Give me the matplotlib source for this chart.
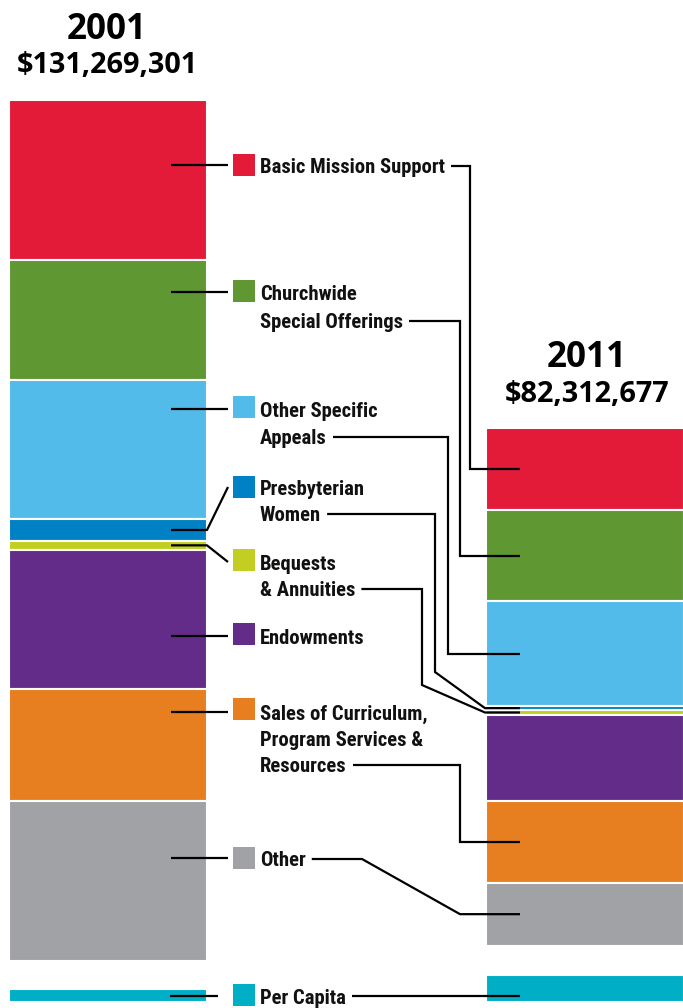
import numpy as np
import matplotlib
matplotlib.use("Agg")
import matplotlib.pyplot as plt
from matplotlib import font_manager
from matplotlib.font_manager import FontProperties
from matplotlib.patches import Rectangle

# ---------------- data (millions of dollars) ----------------
categories = ["Basic Mission Support", "Churchwide Special Offerings", "Other Specific Appeals",
              "Presbyterian Women", "Bequests & Annuities", "Endowments",
              "Sales of Curriculum, Program Services & Resources", "Other"]
label_lines = [["Basic Mission Support"], ["Churchwide", "Special Offerings"],
               ["Other Specific", "Appeals"], ["Presbyterian", "Women"],
               ["Bequests", "& Annuities"], ["Endowments"],
               ["Sales of Curriculum,", "Program Services &", "Resources"], ["Other"]]
values_2001 = [24.0, 18.0, 20.9, 3.2, 1.4, 20.9, 16.8, 24.0]
values_2011 = [12.3, 13.65, 15.75, 0.65, 0.65, 12.9, 12.3, 9.45]
per_capita_label = "Per Capita"
per_capita = [1.95, 4.05]          # 2001, 2011
years = ["2001", "2011"]
totals = ["$131,269,301", "$82,312,677"]
colors = ["#E31A38", "#5F9733", "#53BBEA", "#0080C5", "#C2CF22",
          "#632C88", "#E77E20", "#A1A2A5"]
per_capita_color = "#00AFC6"

# ---------------- fonts ----------------
fm = font_manager.fontManager


def is_bold(f):
    w = f.weight
    if isinstance(w, str):
        return w in ("bold", "heavy", "black", "demibold", "semibold", "extra bold")
    return w >= 600


def is_narrow(f):
    s = f.stretch
    nm = (f.name + " " + f.fname).lower()
    cond = isinstance(s, str) and "condensed" in s
    if isinstance(s, (int, float)) and s < 500:
        cond = True
    return cond or "narrow" in nm or "condensed" in nm


prefs = ["liberation sans narrow", "roboto condensed", "open sans condensed", "noto sans",
         "dejavu sans", "roboto", "open sans", "lato"]
cands = [f for f in fm.ttflist if is_narrow(f) and is_bold(f) and "italic" not in f.style
         and "oblique" not in f.style and "ital" not in f.fname.lower()]


def rank(f):
    n = f.name.lower()
    for i, p in enumerate(prefs):
        if n.startswith(p):
            return i
    return len(prefs)


cands.sort(key=rank)
if cands:
    lab_fp = FontProperties(fname=cands[0].fname)
else:
    lab_fp = FontProperties(family="DejaVu Sans", weight="bold")
names = {f.name for f in fm.ttflist}
title_family = "Open Sans" if "Open Sans" in names else "DejaVu Sans"

# ---------------- layout ----------------
W, H = 683, 1008
S = 0.15                      # millions per pixel
fig = plt.figure(figsize=(W / 100, H / 100), dpi=100)
ax = fig.add_axes([0, 0, 1, 1])
ov = fig.add_axes([0, 0, 1, 1])
for a in (ax, ov):
    a.axis("off")
ov.patch.set_visible(False)
ax.set_xlim(0, W)
ax.set_ylim((H - 100) * S, -100 * S)      # y in millions, left stack top at pixel 100
ov.set_xlim(0, W)
ov.set_ylim(H, 0)
renderer = fig.canvas.get_renderer()

left_x, left_w = 108, 198
right_x, right_w = 585, 198
right_start = (428 - 100) * S
pc_bottom = (1002 - 100) * S

bar_kw = dict(edgecolor="white", linewidth=1.5)
b1 = np.concatenate([[0], np.cumsum(values_2001)[:-1]])
b2 = right_start + np.concatenate([[0], np.cumsum(values_2011)[:-1]])
ax.bar([left_x] * len(values_2001), values_2001, bottom=b1, width=left_w, color=colors, **bar_kw)
ax.bar([right_x] * len(values_2011), values_2011, bottom=b2, width=right_w, color=colors, **bar_kw)
ax.bar([left_x, right_x], per_capita, bottom=[pc_bottom - v for v in per_capita],
       width=[left_w, right_w], color=per_capita_color, **bar_kw)


def to_px(y):
    disp = ax.transData.transform((0, y))
    return ov.transData.inverted().transform(disp)[1]


def fit_size(txt, fp, target_w, base=20):
    fp2 = fp.copy()
    fp2.set_size(base)
    t = ov.text(0, 0, txt, fontproperties=fp2)
    w = t.get_window_extent(renderer).width
    t.remove()
    return base * target_w / w


def cap_height(fp, size):
    fp2 = fp.copy()
    fp2.set_size(size)
    t = ov.text(0, 0, "H", fontproperties=fp2)
    h = t.get_window_extent(renderer).height
    t.remove()
    return h


# ---------------- titles ----------------
tfp = FontProperties(family=title_family, weight="bold")
tot_size = fit_size(totals[0], tfp, 182)
yr_size = fit_size(years[0], tfp, 80)
for cx, yr, tot, by1, by2 in [(107, years[0], totals[0], 39, 73), (587, years[1], totals[1], 367, 402)]:
    f1 = tfp.copy(); f1.set_size(yr_size)
    f2 = tfp.copy(); f2.set_size(tot_size)
    ov.text(cx, by1, yr, ha="center", va="baseline", fontproperties=f1, color="black")
    ov.text(cx, by2, tot, ha="center", va="baseline", fontproperties=f2, color="black")

# ---------------- labels ----------------
lab_size = fit_size("Basic Mission Support", lab_fp, 185)
lab_fp.set_size(lab_size)
cap = cap_height(lab_fp, lab_size) * 0.80   # approx cap height (bbox includes some padding)

line_centers = [[165], [292, 320], [409, 436], [487, 513], [562, 588], [636],
                [712, 738, 764], [858]]
square_centers = [165, 291, 407, 487, 560, 634, 709, 858]
routes = [(470, None), (460, None), (448, None), (435, 672), (422, 685), None,
          (460, None), (362, "diag")]
lw = 1.6


def draw_label(lines, centers, sq_y, color):
    ov.add_patch(Rectangle((233, sq_y - 11), 22, 22, color=color, lw=0))
    txts = []
    for ln, cy in zip(lines, centers):
        t = ov.text(260, cy + cap / 2, ln, ha="left", va="baseline", fontproperties=lab_fp,
                    color="#111111")
        txts.append(t)
    bb = txts[-1].get_window_extent(renderer)
    return ov.transData.inverted().transform((bb.x1, bb.y0))[0]


for i, cat in enumerate(categories):
    xe = draw_label(label_lines[i], line_centers[i], square_centers[i], colors[i])
    ly0 = line_centers[i][0]
    top, bot = to_px(b1[i]), to_px(b1[i] + values_2001[i])
    if top <= ly0 <= bot:
        ov.plot([171, 228], [ly0, ly0], color="black", lw=lw, solid_capstyle="butt")
    else:
        c = (top + bot) / 2
        ov.plot([171, 207, 228], [c, c, ly0], color="black", lw=lw, solid_capstyle="butt")
    r = routes[i]
    if r is None:
        continue
    ly = line_centers[i][-1] + 1
    c2 = (to_px(b2[i]) + to_px(b2[i] + values_2011[i])) / 2
    vx, knee = r
    if knee is None:
        xs, ys = [xe + 6, vx, vx, 520], [ly, ly, c2, c2]
    elif knee == "diag":
        xs, ys = [xe + 6, vx, 460, 520], [ly, ly, c2, c2]
    else:
        xs, ys = [xe + 6, vx, vx, 485, 520], [ly, ly, knee, c2, c2]
    ov.plot(xs, ys, color="black", lw=lw, solid_capstyle="butt", solid_joinstyle="miter")

# per capita
pcy = 996
xe = draw_label([per_capita_label], [pcy], 995, per_capita_color)
ov.plot([170, 218], [pcy, pcy], color="black", lw=lw, solid_capstyle="butt")
ov.plot([xe + 6, 520], [pcy, pcy], color="black", lw=lw, solid_capstyle="butt")

fig.savefig("out.png", dpi=100, facecolor="white")
